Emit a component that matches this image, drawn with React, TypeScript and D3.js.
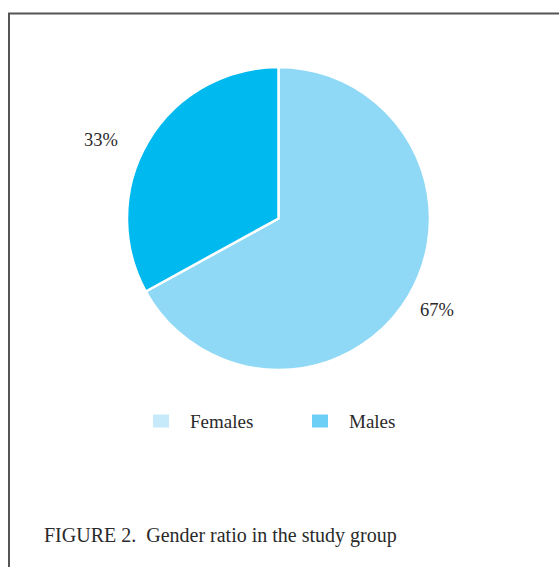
import React from "react";
import * as d3 from "d3";

const categories = ["Females", "Males"];
const values = [67, 33];
const sliceColors = ["#8FD9F6", "#00B9EF"];
const legendColors = ["#C6EAF9", "#6CCFF6"];
const caption = "FIGURE 2.  Gender ratio in the study group";

const W = 559;
const H = 567;
const FONT = "'Liberation Serif', 'DejaVu Serif', serif";

export default function App() {
  const cx = 278.5;
  const cy = 218.5;
  const r = 151.5;
  const pie = d3.pie<number>().sort(null).value((d) => d);
  const arcs = pie(values);
  const arc = d3.arc<d3.PieArcDatum<number>>().innerRadius(0).outerRadius(r);
  const labelArc = d3.arc<d3.PieArcDatum<number>>().innerRadius(183).outerRadius(183);
  // small placement nudges for outside labels (best-fit style)
  const labelNudge: [number, number][] = [[1, -1.5], [-20, 15]];

  const legendX = d3.scalePoint<string>().domain(categories).range([153, 312]);

  return (
    <svg
      width={W}
      height={H}
      style={{ position: "absolute", left: 0, top: 0, background: "#fff" }}
    >
      <path d={`M9,${H} L9,13.5 L${W},13.5`} fill="none" stroke="#555" strokeWidth={2} />
      <g transform={`translate(${cx},${cy})`}>
        {arcs.map((a, i) => (
          <path key={i} d={arc(a) || ""} fill={sliceColors[i]} stroke="#fff" strokeWidth={2.5} strokeLinejoin="round" />
        ))}
        {arcs.map((a, i) => {
          const [lx, ly] = labelArc.centroid(a);
          return (
            <text
              key={"l" + i}
              x={lx + labelNudge[i][0]}
              y={ly + labelNudge[i][1]}
              textAnchor="middle"
              dominantBaseline="central"
              fontFamily={FONT}
              fontSize={18.5}
              fill="#2a2a2a"
            >
              {a.data}%
            </text>
          );
        })}
      </g>
      {categories.map((c, i) => (
        <g key={c} transform={`translate(${legendX(c)},414.5)`}>
          <rect width={16} height={13} fill={legendColors[i]} />
          <text x={37} y={13} fontFamily={FONT} fontSize={19} fill="#2a2a2a">
            {c}
          </text>
        </g>
      ))}
      <text x={44} y={541.5} fontFamily={FONT} fontSize={20} fill="#2a2a2a" style={{ whiteSpace: "pre" }}>
        {caption}
      </text>
    </svg>
  );
}
